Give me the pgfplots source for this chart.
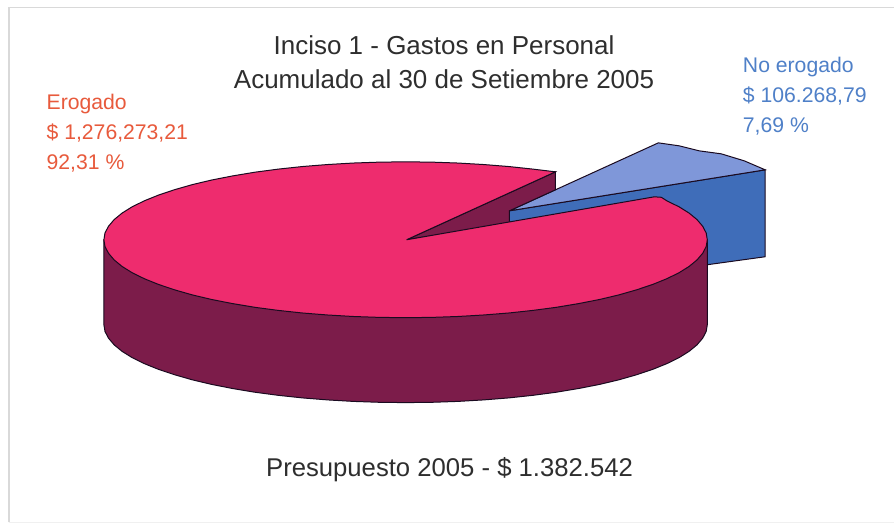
\documentclass[border=0pt]{standalone}
\usepackage{fontspec}
\setmainfont{Liberation Sans}
\usepackage{pgfplots}
\pgfplotsset{compat=1.18}
\definecolor{piepink}{HTML}{EE2C6E}
\definecolor{piedark}{HTML}{7C1C4A}
\definecolor{bluetop}{HTML}{7F97D9}
\definecolor{bluewall}{HTML}{3F6DB9}
\definecolor{edge}{HTML}{1A0A20}
\definecolor{labred}{HTML}{E85A3C}
\definecolor{labblue}{HTML}{4F80C8}
\definecolor{titletext}{HTML}{2E2E2E}
\begin{document}
\begin{tikzpicture}
\begin{axis}[
  scale only axis, width=895pt, height=524pt,
  xmin=0, xmax=895, ymin=0, ymax=524, y dir=reverse,
  hide axis, clip=false]
% page background, holds the full extent
\addplot[fill=white, draw=none] coordinates {(0,0) (895,0) (895,524) (0,524) (0,0)};
% frame
\addplot[draw=black!15, line width=1.8pt] coordinates {(9,523) (9,7.5) (895,7.5)};
\addplot[draw=black!6, line width=1pt] coordinates {(9,523) (895,523)};
% blue slice wall
\addplot[fill=bluewall, draw=edge, line width=1pt] coordinates {(510,211) (766,170) (766,257) (708,265) (640,240) (510,224) (510,211)};
% blue slice top
\addplot[fill=bluetop, draw=edge, line width=1pt] coordinates {(510,211) (659,143) (680,146) (700,151) (722,154) (745,161) (766,170) (510,211)};
% inner wall of the pie cut
\addplot[fill=piedark, draw=edge, line width=1pt] coordinates {(407,240) (556,172) (556,190) (510,211) (510,224) (407,240)};
% pie side
\addplot[fill=piedark, draw=edge, line width=1pt] coordinates {
(708,240) (708,325) (706.9,331.8) (703.4,338.5) (697.7,345.2) (689.8,351.7) (679.7,358) (667.5,364) (653.4,369.7) (637.3,375.1) (619.5,380.2) (600.1,384.8) (579.2,388.9) (557,392.6) (533.6,395.7) (509.3,398.3) (484.2,400.3) (458.4,401.8) (432.3,402.7) (406,403)
(379.7,402.7) (353.6,401.8) (327.8,400.3) (302.7,398.3) (278.4,395.7) (255,392.6) (232.8,388.9) (211.9,384.8) (192.5,380.2) (174.7,375.1) (158.6,369.7) (144.5,364) (132.3,358) (122.2,351.7) (114.3,345.2) (108.6,338.5) (105.1,331.8) (104,325) (104,240) (708,240)};
% pie top
\addplot[fill=piepink, draw=edge, line width=1pt] coordinates {
(407,240) (655,197) (662,197.5) (667.5,201) (679.7,207) (689.8,213.3) (697.7,219.8) (703.4,226.5) (706.9,233.2) (708,240)
(706.9,246.8) (703.4,253.5) (697.7,260.2) (689.8,266.7) (679.7,273) (667.5,279) (653.4,284.7) (637.3,290.1) (619.5,295.2) (600.1,299.8) (579.2,303.9) (557,307.6) (533.6,310.7) (509.3,313.3) (484.2,315.3) (458.4,316.8) (432.3,317.7) (406,318)
(379.7,317.7) (353.6,316.8) (327.8,315.3) (302.7,313.3) (278.4,310.7) (255,307.6) (232.8,303.9) (211.9,299.8) (192.5,295.2) (174.7,290.1) (158.6,284.7) (144.5,279) (132.3,273) (122.2,266.7) (114.3,260.2) (108.6,253.5) (105.1,246.8) (104,240)
(105.1,233.2) (108.6,226.5) (114.3,219.8) (122.2,213.3) (132.3,207) (144.5,201) (158.6,195.3) (174.7,189.9) (192.5,184.8) (211.9,180.2) (232.8,176.1) (255,172.4) (278.4,169.3) (302.7,166.7) (327.8,164.7) (353.6,163.2) (379.7,162.3) (406,162) (432.3,162.3) (458.4,163.2) (484.2,164.7) (509.3,166.7) (533.6,169.3) (556,172) (407,240)};
% texts
\node[text=titletext, font=\fontsize{26}{26}\selectfont, anchor=base, inner sep=0pt] at (axis cs:444.5,55) {Inciso 1 - Gastos en Personal};
\node[text=titletext, font=\fontsize{26}{26}\selectfont, anchor=base, inner sep=0pt] at (axis cs:444.5,89) {Acumulado al 30 de Setiembre 2005};
\node[text=titletext, font=\fontsize{25.7}{25.7}\selectfont, anchor=base, inner sep=0pt] at (axis cs:450,477) {Presupuesto 2005 - \$ 1.382.542};
\node[text=labred, font=\fontsize{21.2}{21.2}\selectfont, anchor=base west, inner sep=0pt] at (axis cs:46.5,110) {Erogado};
\node[text=labred, font=\fontsize{21.2}{21.2}\selectfont, anchor=base west, inner sep=0pt] at (axis cs:46.5,140) {\$ 1,276,273,21};
\node[text=labred, font=\fontsize{21.2}{21.2}\selectfont, anchor=base west, inner sep=0pt] at (axis cs:46.5,170) {92,31 \%};
\node[text=labblue, font=\fontsize{21.2}{21.2}\selectfont, anchor=base west, inner sep=0pt] at (axis cs:743.5,73) {No erogado};
\node[text=labblue, font=\fontsize{21.2}{21.2}\selectfont, anchor=base west, inner sep=0pt] at (axis cs:743.5,103) {\$ 106.268,79};
\node[text=labblue, font=\fontsize{21.2}{21.2}\selectfont, anchor=base west, inner sep=0pt] at (axis cs:743.5,133) {7,69 \%};
\end{axis}
\end{tikzpicture}
\end{document}
